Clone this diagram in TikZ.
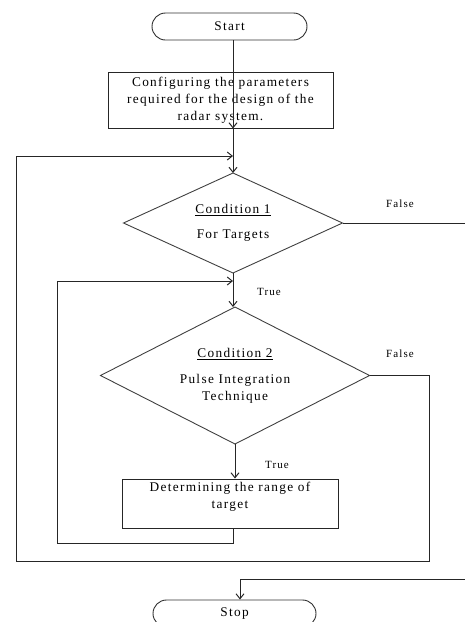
\documentclass[tikz,border=0pt]{standalone}
\usepackage{fontspec}
\setmainfont{Liberation Serif}[LetterSpace=10]
\usetikzlibrary{shapes.geometric,arrows.meta}
\begin{document}
\begin{tikzpicture}[x=1pt,y=-1pt,
  font=\fontsize{13.3}{17}\selectfont,
  line/.style={draw=black!85, line width=1pt},
  arr/.style={line, -{Straight Barb[length=5pt,width=8pt]}},
  term/.style={draw=black!80, line width=0.9pt, rounded corners=13.5pt, minimum height=27pt, inner sep=0pt},
  procbox/.style={draw=black!85, line width=1pt, align=center, inner sep=0pt},
  decision/.style={draw=black!75, diamond, line width=0.9pt, inner sep=0pt, outer sep=0pt, align=center},
  lbl/.style={font=\fontsize{11}{13}\selectfont, inner sep=0pt}]
\useasboundingbox (0,0) rectangle (465,622);

% nodes
\node[term, minimum width=155pt] (start) at (229.5,26.5) {Start};
\node[procbox, minimum width=225pt, minimum height=56pt] (box1) at (220.5,100)
  {Configuring the parameters\\required for the design of the\\radar system.};
\node[decision, aspect=2.19, minimum width=219pt, minimum height=100pt] (d1) at (233,223)
  {\underline{Condition 1}\\[8pt]For Targets};
\node[decision, aspect=1.96, minimum width=269pt, minimum height=137pt] (d2) at (235,375.5)
  {\underline{Condition 2}\\[9pt]Pulse Integration\\Technique};
\node[procbox, minimum width=216pt, minimum height=49pt] (box2) at (230,503.5) {};
\node[align=center, inner sep=0pt, anchor=north] (box2t) at (230,482)
  {Determining the range of\\target};
\node[term, minimum width=163pt] (stop) at (234.5,613.5) {Stop};

% labels
\node[lbl] (f1) at (400,204) {False};
\node[lbl] (t1) at (269,292) {True};
\node[lbl] (f2) at (400,354) {False};
\node[lbl] (t2) at (277,465) {True};

% helper coordinates
\coordinate (spine) at (233,0);
\coordinate (j1) at (233,156);
\coordinate (j2) at (233,281);
\coordinate (redge) at (465,0);
\coordinate (rx) at (429,0);
\coordinate (ob) at (429,561);
\coordinate (ol) at (16,561);
\coordinate (ot) at (16,156);
\coordinate (ib) at (233,543);
\coordinate (il) at (57,543);
\coordinate (it) at (57,281);
\coordinate (se) at (465,579);
\coordinate (sx) at (240,579);

% connectors
\draw[arr] (start.south -| spine) -- (box1.south -| spine |- box1.north);
\draw[arr] (box1.south -| spine) -- (d1.north);
\draw[line] (d1.east) -- (d1.east -| redge);
\draw[arr] (d1.south) -- (d1.south |- d2.north);
\draw[arr] (d2.south) -- (d2.south |- box2.north);
\draw[arr] (d2.east) -- (d2.east -| rx) -- (ob) -- (ol) -- (ot) -- (j1);
\draw[arr] (box2.south -| ib) -- (ib) -- (il) -- (it) -- (j2);
\draw[arr] (se) -- (sx) -- (sx |- stop.north);
\end{tikzpicture}
\end{document}
